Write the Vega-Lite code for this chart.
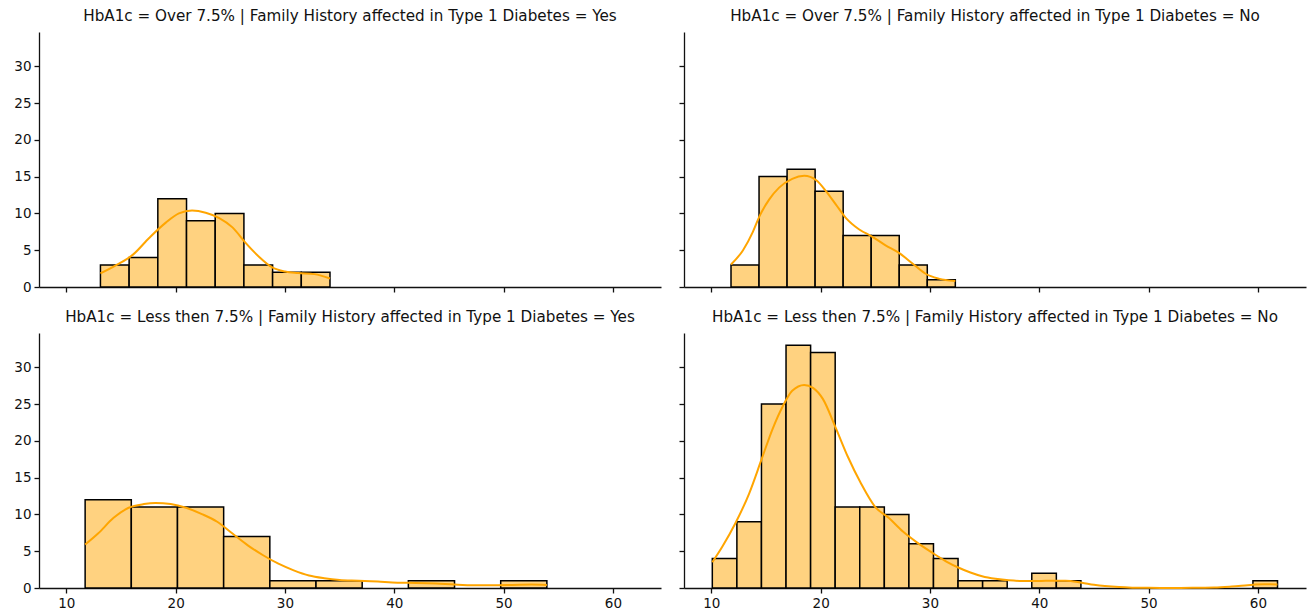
{
  "$schema": "https://vega.github.io/schema/vega-lite/v6.json",
  "background": "white",
  "padding": {"left": 13, "top": 8, "right": 2, "bottom": 2},
  "datasets": {
    "bars": [
      {"panel": "TL", "bin_start": 13.12, "bin_end": 15.745, "count": 3},
      {"panel": "TL", "bin_start": 15.745, "bin_end": 18.37, "count": 4},
      {"panel": "TL", "bin_start": 18.37, "bin_end": 20.995, "count": 12},
      {"panel": "TL", "bin_start": 20.995, "bin_end": 23.62, "count": 9},
      {"panel": "TL", "bin_start": 23.62, "bin_end": 26.245, "count": 10},
      {"panel": "TL", "bin_start": 26.245, "bin_end": 28.87, "count": 3},
      {"panel": "TL", "bin_start": 28.87, "bin_end": 31.495, "count": 2},
      {"panel": "TL", "bin_start": 31.495, "bin_end": 34.12, "count": 2},
      {"panel": "TR", "bin_start": 11.8, "bin_end": 14.365, "count": 3},
      {"panel": "TR", "bin_start": 14.365, "bin_end": 16.93, "count": 15},
      {"panel": "TR", "bin_start": 16.93, "bin_end": 19.495, "count": 16},
      {"panel": "TR", "bin_start": 19.495, "bin_end": 22.06, "count": 13},
      {"panel": "TR", "bin_start": 22.06, "bin_end": 24.625, "count": 7},
      {"panel": "TR", "bin_start": 24.625, "bin_end": 27.19, "count": 7},
      {"panel": "TR", "bin_start": 27.19, "bin_end": 29.755, "count": 3},
      {"panel": "TR", "bin_start": 29.755, "bin_end": 32.32, "count": 1},
      {"panel": "BL", "bin_start": 11.72, "bin_end": 15.944, "count": 12},
      {"panel": "BL", "bin_start": 15.944, "bin_end": 20.168, "count": 11},
      {"panel": "BL", "bin_start": 20.168, "bin_end": 24.392, "count": 11},
      {"panel": "BL", "bin_start": 24.392, "bin_end": 28.616, "count": 7},
      {"panel": "BL", "bin_start": 28.616, "bin_end": 32.84, "count": 1},
      {"panel": "BL", "bin_start": 32.84, "bin_end": 37.064, "count": 1},
      {"panel": "BL", "bin_start": 41.288, "bin_end": 45.512, "count": 1},
      {"panel": "BL", "bin_start": 49.736, "bin_end": 53.96, "count": 1},
      {"panel": "BR", "bin_start": 10.09, "bin_end": 12.338, "count": 4},
      {"panel": "BR", "bin_start": 12.338, "bin_end": 14.586, "count": 9},
      {"panel": "BR", "bin_start": 14.586, "bin_end": 16.834, "count": 25},
      {"panel": "BR", "bin_start": 16.834, "bin_end": 19.082, "count": 33},
      {"panel": "BR", "bin_start": 19.082, "bin_end": 21.33, "count": 32},
      {"panel": "BR", "bin_start": 21.33, "bin_end": 23.578, "count": 11},
      {"panel": "BR", "bin_start": 23.578, "bin_end": 25.826, "count": 11},
      {"panel": "BR", "bin_start": 25.826, "bin_end": 28.074, "count": 10},
      {"panel": "BR", "bin_start": 28.074, "bin_end": 30.322, "count": 6},
      {"panel": "BR", "bin_start": 30.322, "bin_end": 32.57, "count": 4},
      {"panel": "BR", "bin_start": 32.57, "bin_end": 34.818, "count": 1},
      {"panel": "BR", "bin_start": 34.818, "bin_end": 37.066, "count": 1},
      {"panel": "BR", "bin_start": 39.314, "bin_end": 41.562, "count": 2},
      {"panel": "BR", "bin_start": 41.562, "bin_end": 43.81, "count": 1},
      {"panel": "BR", "bin_start": 59.546, "bin_end": 61.794, "count": 1}
    ],
    "kde": [
      {"panel": "TL", "x": 13.12, "y": 1.84},
      {"panel": "TL", "x": 14.6, "y": 3.0},
      {"panel": "TL", "x": 16.1, "y": 4.4},
      {"panel": "TL", "x": 17.6, "y": 6.7},
      {"panel": "TL", "x": 19.1, "y": 8.75},
      {"panel": "TL", "x": 20.3, "y": 10.0},
      {"panel": "TL", "x": 21.5, "y": 10.4},
      {"panel": "TL", "x": 22.75, "y": 10.1},
      {"panel": "TL", "x": 23.95, "y": 9.4},
      {"panel": "TL", "x": 25.2, "y": 8.1},
      {"panel": "TL", "x": 26.4, "y": 6.0},
      {"panel": "TL", "x": 27.6, "y": 4.15},
      {"panel": "TL", "x": 28.8, "y": 2.7},
      {"panel": "TL", "x": 30.0, "y": 2.1},
      {"panel": "TL", "x": 31.2, "y": 1.9},
      {"panel": "TL", "x": 32.7, "y": 1.75},
      {"panel": "TL", "x": 34.12, "y": 1.15},
      {"panel": "TR", "x": 11.8, "y": 3.06},
      {"panel": "TR", "x": 12.9, "y": 5.0},
      {"panel": "TR", "x": 13.8, "y": 7.5},
      {"panel": "TR", "x": 14.4, "y": 9.6},
      {"panel": "TR", "x": 15.3, "y": 11.9},
      {"panel": "TR", "x": 16.2, "y": 13.5},
      {"panel": "TR", "x": 17.4, "y": 14.7},
      {"panel": "TR", "x": 18.5, "y": 15.1},
      {"panel": "TR", "x": 19.6, "y": 14.5},
      {"panel": "TR", "x": 20.5, "y": 13.0},
      {"panel": "TR", "x": 21.4, "y": 11.2},
      {"panel": "TR", "x": 22.3, "y": 9.4},
      {"panel": "TR", "x": 23.5, "y": 7.85},
      {"panel": "TR", "x": 24.7, "y": 6.85},
      {"panel": "TR", "x": 25.9, "y": 5.7},
      {"panel": "TR", "x": 27.2, "y": 4.6},
      {"panel": "TR", "x": 28.4, "y": 3.2},
      {"panel": "TR", "x": 29.6, "y": 1.8},
      {"panel": "TR", "x": 30.8, "y": 1.14},
      {"panel": "TR", "x": 32.32, "y": 0.8},
      {"panel": "BL", "x": 11.72, "y": 5.9},
      {"panel": "BL", "x": 12.9, "y": 7.4},
      {"panel": "BL", "x": 14.3, "y": 9.5},
      {"panel": "BL", "x": 15.7, "y": 10.9},
      {"panel": "BL", "x": 17.1, "y": 11.4},
      {"panel": "BL", "x": 18.15, "y": 11.55},
      {"panel": "BL", "x": 19.55, "y": 11.4},
      {"panel": "BL", "x": 20.95, "y": 10.9},
      {"panel": "BL", "x": 22.4, "y": 10.05},
      {"panel": "BL", "x": 23.8, "y": 9.0},
      {"panel": "BL", "x": 25.2, "y": 7.4},
      {"panel": "BL", "x": 26.6, "y": 5.8},
      {"panel": "BL", "x": 28.0, "y": 4.45},
      {"panel": "BL", "x": 29.4, "y": 3.3},
      {"panel": "BL", "x": 30.8, "y": 2.4},
      {"panel": "BL", "x": 32.2, "y": 1.7},
      {"panel": "BL", "x": 33.6, "y": 1.33},
      {"panel": "BL", "x": 35.0, "y": 1.1},
      {"panel": "BL", "x": 36.75, "y": 1.0},
      {"panel": "BL", "x": 38.5, "y": 0.87},
      {"panel": "BL", "x": 40.3, "y": 0.73},
      {"panel": "BL", "x": 42.0, "y": 0.69},
      {"panel": "BL", "x": 43.8, "y": 0.6},
      {"panel": "BL", "x": 45.5, "y": 0.46},
      {"panel": "BL", "x": 47.3, "y": 0.37},
      {"panel": "BL", "x": 49.0, "y": 0.37},
      {"panel": "BL", "x": 50.8, "y": 0.41},
      {"panel": "BL", "x": 52.55, "y": 0.46},
      {"panel": "BL", "x": 53.96, "y": 0.41},
      {"panel": "BR", "x": 10.09, "y": 3.5},
      {"panel": "BR", "x": 11.0, "y": 5.6},
      {"panel": "BR", "x": 12.2, "y": 8.8},
      {"panel": "BR", "x": 13.45, "y": 12.8},
      {"panel": "BR", "x": 14.6, "y": 17.5},
      {"panel": "BR", "x": 15.6, "y": 21.6},
      {"panel": "BR", "x": 16.5, "y": 24.6},
      {"panel": "BR", "x": 17.4, "y": 26.8},
      {"panel": "BR", "x": 18.5, "y": 27.6},
      {"panel": "BR", "x": 19.3, "y": 27.2},
      {"panel": "BR", "x": 20.2, "y": 25.7},
      {"panel": "BR", "x": 21.37, "y": 21.8},
      {"panel": "BR", "x": 22.5, "y": 17.8},
      {"panel": "BR", "x": 23.66, "y": 14.3},
      {"panel": "BR", "x": 25.0, "y": 11.0},
      {"panel": "BR", "x": 26.25, "y": 9.5},
      {"panel": "BR", "x": 27.5, "y": 7.7},
      {"panel": "BR", "x": 28.8, "y": 6.2},
      {"panel": "BR", "x": 30.2, "y": 4.8},
      {"panel": "BR", "x": 31.5, "y": 3.6},
      {"panel": "BR", "x": 32.64, "y": 2.75},
      {"panel": "BR", "x": 33.7, "y": 2.1},
      {"panel": "BR", "x": 34.77, "y": 1.6},
      {"panel": "BR", "x": 36.0, "y": 1.25},
      {"panel": "BR", "x": 37.2, "y": 1.04},
      {"panel": "BR", "x": 38.5, "y": 0.95},
      {"panel": "BR", "x": 39.95, "y": 0.95},
      {"panel": "BR", "x": 41.2, "y": 1.0},
      {"panel": "BR", "x": 42.4, "y": 1.0},
      {"panel": "BR", "x": 43.9, "y": 0.72},
      {"panel": "BR", "x": 45.0, "y": 0.45},
      {"panel": "BR", "x": 46.0, "y": 0.27},
      {"panel": "BR", "x": 47.3, "y": 0.12},
      {"panel": "BR", "x": 48.5, "y": 0.05},
      {"panel": "BR", "x": 50.0, "y": 0.02},
      {"panel": "BR", "x": 52.0, "y": 0.01},
      {"panel": "BR", "x": 54.0, "y": 0.02},
      {"panel": "BR", "x": 56.0, "y": 0.06},
      {"panel": "BR", "x": 57.6, "y": 0.2},
      {"panel": "BR", "x": 59.55, "y": 0.45},
      {"panel": "BR", "x": 60.6, "y": 0.52},
      {"panel": "BR", "x": 61.79, "y": 0.48}
    ]
  },
  "config": {
    "view": {"stroke": null},
    "font": "DejaVu Sans",
    "axis": {"grid": false, "domainColor": "#111111", "tickColor": "#111111", "labelColor": "#111111", "labelFont": "DejaVu Sans", "labelFontSize": 13.5, "tickSize": 5, "labelPadding": 3, "domainWidth": 1.3, "tickWidth": 1.3},
    "title": {"font": "DejaVu Sans", "fontSize": 15.2, "fontWeight": "normal", "color": "#111111", "anchor": "middle", "frame": "group", "offset": 8}
  },
  "spacing": 15,
  "vconcat": [
    {
      "spacing": 17,
      "hconcat": [
        {
          "title": "HbA1c = Over 7.5% | Family History affected in Type 1 Diabetes = Yes",
          "width": 622, "height": 255,
          "layer": [
            {"data": {"name": "bars"}, "transform": [{"filter": "datum.panel === 'TL'"}],
             "mark": {"type": "bar", "fill": "#FFD280", "stroke": "black", "strokeWidth": 1.5},
             "encoding": {
               "x": {"field": "bin_start", "type": "quantitative", "title": null, "scale": {"domain": [7.5, 64.4], "nice": false, "zero": false}, "axis": {"values": [10, 20, 30, 40, 50, 60], "labels": false}},
               "x2": {"field": "bin_end"},
               "y": {"field": "count", "type": "quantitative", "title": null, "scale": {"domain": [0, 34.65], "nice": false}, "axis": {"values": [0, 5, 10, 15, 20, 25, 30]}},
               "y2": {"datum": 0}
             }},
            {"data": {"name": "kde"}, "transform": [{"filter": "datum.panel === 'TL'"}],
             "mark": {"type": "line", "color": "#FFA500", "strokeWidth": 2, "interpolate": "monotone"},
             "encoding": {"x": {"field": "x", "type": "quantitative"}, "y": {"field": "y", "type": "quantitative"}}}
          ]
        },
        {
          "title": "HbA1c = Over 7.5% | Family History affected in Type 1 Diabetes = No",
          "width": 622, "height": 255,
          "layer": [
            {"data": {"name": "bars"}, "transform": [{"filter": "datum.panel === 'TR'"}],
             "mark": {"type": "bar", "fill": "#FFD280", "stroke": "black", "strokeWidth": 1.5},
             "encoding": {
               "x": {"field": "bin_start", "type": "quantitative", "title": null, "scale": {"domain": [7.5, 64.4], "nice": false, "zero": false}, "axis": {"values": [10, 20, 30, 40, 50, 60], "labels": false}},
               "x2": {"field": "bin_end"},
               "y": {"field": "count", "type": "quantitative", "title": null, "scale": {"domain": [0, 34.65], "nice": false}, "axis": {"values": [0, 5, 10, 15, 20, 25, 30], "labels": false}},
               "y2": {"datum": 0}
             }},
            {"data": {"name": "kde"}, "transform": [{"filter": "datum.panel === 'TR'"}],
             "mark": {"type": "line", "color": "#FFA500", "strokeWidth": 2, "interpolate": "monotone"},
             "encoding": {"x": {"field": "x", "type": "quantitative"}, "y": {"field": "y", "type": "quantitative"}}}
          ]
        }
      ]
    },
    {
      "spacing": 17,
      "hconcat": [
        {
          "title": "HbA1c = Less then 7.5% | Family History affected in Type 1 Diabetes = Yes",
          "width": 622, "height": 255,
          "layer": [
            {"data": {"name": "bars"}, "transform": [{"filter": "datum.panel === 'BL'"}],
             "mark": {"type": "bar", "fill": "#FFD280", "stroke": "black", "strokeWidth": 1.5},
             "encoding": {
               "x": {"field": "bin_start", "type": "quantitative", "title": null, "scale": {"domain": [7.5, 64.4], "nice": false, "zero": false}, "axis": {"values": [10, 20, 30, 40, 50, 60]}},
               "x2": {"field": "bin_end"},
               "y": {"field": "count", "type": "quantitative", "title": null, "scale": {"domain": [0, 34.65], "nice": false}, "axis": {"values": [0, 5, 10, 15, 20, 25, 30]}},
               "y2": {"datum": 0}
             }},
            {"data": {"name": "kde"}, "transform": [{"filter": "datum.panel === 'BL'"}],
             "mark": {"type": "line", "color": "#FFA500", "strokeWidth": 2, "interpolate": "monotone"},
             "encoding": {"x": {"field": "x", "type": "quantitative"}, "y": {"field": "y", "type": "quantitative"}}}
          ]
        },
        {
          "title": "HbA1c = Less then 7.5% | Family History affected in Type 1 Diabetes = No",
          "width": 622, "height": 255,
          "layer": [
            {"data": {"name": "bars"}, "transform": [{"filter": "datum.panel === 'BR'"}],
             "mark": {"type": "bar", "fill": "#FFD280", "stroke": "black", "strokeWidth": 1.5},
             "encoding": {
               "x": {"field": "bin_start", "type": "quantitative", "title": null, "scale": {"domain": [7.5, 64.4], "nice": false, "zero": false}, "axis": {"values": [10, 20, 30, 40, 50, 60]}},
               "x2": {"field": "bin_end"},
               "y": {"field": "count", "type": "quantitative", "title": null, "scale": {"domain": [0, 34.65], "nice": false}, "axis": {"values": [0, 5, 10, 15, 20, 25, 30], "labels": false}},
               "y2": {"datum": 0}
             }},
            {"data": {"name": "kde"}, "transform": [{"filter": "datum.panel === 'BR'"}],
             "mark": {"type": "line", "color": "#FFA500", "strokeWidth": 2, "interpolate": "monotone"},
             "encoding": {"x": {"field": "x", "type": "quantitative"}, "y": {"field": "y", "type": "quantitative"}}}
          ]
        }
      ]
    }
  ]
}
